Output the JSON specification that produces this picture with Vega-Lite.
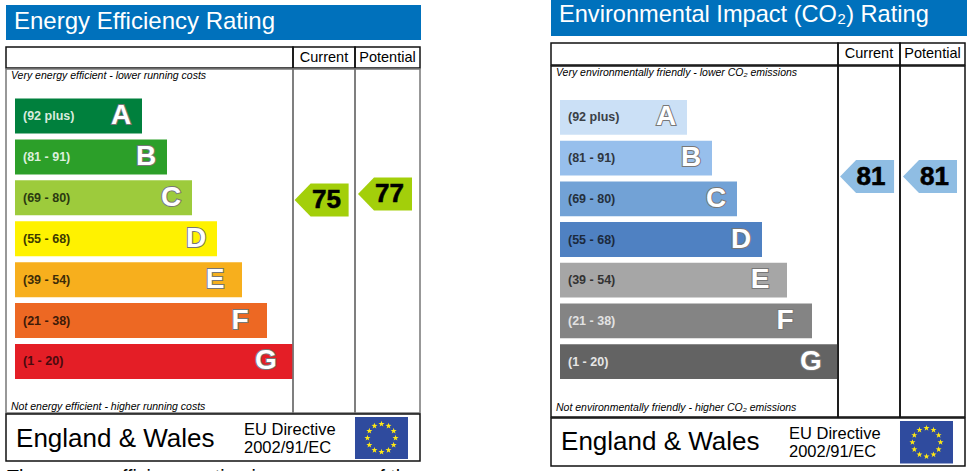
{
"$schema":"https://vega.github.io/schema/vega-lite/v6.json",
"padding":{"left":5,"top":0,"right":0,"bottom":0},
"background":"white",
"config":{"view":{"stroke":null},"concat":{"spacing":0},"font":"Liberation Sans"},
"datasets":{
"energy":[{"band":"A","range":"(92 plus)","len":127,"note":"Very energy efficient - lower running costs"},{"band":"B","range":"(81 - 91)","len":152},{"band":"C","range":"(69 - 80)","len":177},{"band":"D","range":"(55 - 68)","len":202},{"band":"E","range":"(39 - 54)","len":227},{"band":"F","range":"(21 - 38)","len":252},{"band":"G","range":"(1 - 20)","len":278,"note":"Not energy efficient - higher running costs"}],
"co2":[{"band":"A","range":"(92 plus)","len":127,"note":"Very environmentally friendly - lower CO₂ emissions"},{"band":"B","range":"(81 - 91)","len":152},{"band":"C","range":"(69 - 80)","len":177},{"band":"D","range":"(55 - 68)","len":202},{"band":"E","range":"(39 - 54)","len":227},{"band":"F","range":"(21 - 38)","len":252},{"band":"G","range":"(1 - 20)","len":278,"note":"Not environmentally friendly - higher CO₂ emissions"}],
"stars":[{"east":0,"north":0.667},{"east":0.265,"north":0.578},{"east":0.459,"north":0.333},{"east":0.53,"north":0},{"east":0.459,"north":-0.333},{"east":0.265,"north":-0.578},{"east":0,"north":-0.667},{"east":-0.265,"north":-0.578},{"east":-0.459,"north":-0.333},{"east":-0.53,"north":0},{"east":-0.459,"north":0.333},{"east":-0.265,"north":0.578}]
},
"resolve":{"scale":{"color":"independent","fill":"independent"}},
"hconcat":[
{"spacing":0,"resolve":{"scale":{"color":"independent","fill":"independent"}},"vconcat":[
 {"width":10,"height":5,"data":{"values":[]},"mark":"text","encoding":{}},
 {"width":415,"height":35,"view":{"fill":"#0071bc"},"data":{"values":[{"title":"Energy Efficiency Rating"}]},
  "mark":{"type":"text","align":"left","baseline":"alphabetic","fontSize":24,"color":"white"},
  "encoding":{"text":{"field":"title"},"x":{"datum":8,"scale":{"domain":[0,415]},"axis":null},"y":{"datum":24,"scale":{"domain":[0,35],"reverse":true},"axis":null}}},
 {"width":10,"height":6,"data":{"values":[]},"mark":"text","encoding":{}},
 {"spacing":-2,"resolve":{"scale":{"color":"independent","fill":"independent"}},"vconcat":[
 {"spacing":0,"bounds":"flush","hconcat":[
  {"width":287,"height":21,"view":{"stroke":"#111","strokeWidth":1.5},"data":{"values":[]},"mark":"text","encoding":{}},
  {"width":62,"height":21,"view":{"stroke":"#111","strokeWidth":1.5},"data":{"values":[{"label":"Current"}]},"mark":{"type":"text","fontSize":14.5,"color":"#000"},"encoding":{"text":{"field":"label"}}},
  {"width":65,"height":21,"view":{"stroke":"#111","strokeWidth":1.5},"data":{"values":[{"label":"Potential"}]},"mark":{"type":"text","fontSize":14.5,"color":"#000"},"encoding":{"text":{"field":"label"}}}
 ]},
 {"spacing":0,"bounds":"flush","resolve":{"scale":{"color":"independent","fill":"independent"}},"hconcat":[
  {"width":287,"height":344,"view":{"stroke":"#777","strokeWidth":1.5},"data":{"name":"energy"},
   "encoding":{"y":{"field":"band","type":"nominal","axis":null,"scale":{"domain":["A","B","C","D","E","F","G"],"range":[29.5,310],"paddingInner":0.144,"paddingOuter":0}},
     "x":{"field":"len","type":"quantitative","axis":null,"scale":{"domain":[-9,278],"nice":false}}},
   "layer":[
    {"mark":"bar","encoding":{"color":{"field":"band","type":"nominal","legend":null,"scale":{"domain":["A","B","C","D","E","F","G"],"range":["#00803d","#2c9f29","#9dcb3c","#fff200","#f7af1d","#ed6823","#e41e26"]}}}},
    {"mark":{"type":"text","align":"left","fontSize":12.5,"fontWeight":"bold"},"encoding":{"x":{"datum":8},"text":{"field":"range"},"fill":{"field":"band","type":"nominal","legend":null,"scale":{"domain":["A","B","C","D","E","F","G"],"range":["#d8ebdd","#dcefdc","#2b3a10","#3d3a00","#3d2c08","#3d1a08","#4a0a0e"]}}}},
    {"transform":[{"filter":"datum.band<='D'"}],"mark":{"type":"text","align":"center","fontSize":28,"fontWeight":"bold","dx":-21,"fill":"#777","stroke":"#777","strokeWidth":2},"encoding":{"text":{"field":"band"}}},
    {"transform":[{"filter":"datum.band>'D'"}],"mark":{"type":"text","align":"center","fontSize":28,"fontWeight":"bold","dx":-27,"fill":"#777","stroke":"#777","strokeWidth":2},"encoding":{"text":{"field":"band"}}},
    {"transform":[{"filter":"datum.band<='D'"}],"mark":{"type":"text","align":"center","fontSize":28,"fontWeight":"bold","dx":-21,"fill":"white"},"encoding":{"text":{"field":"band"}}},
    {"transform":[{"filter":"datum.band>'D'"}],"mark":{"type":"text","align":"center","fontSize":28,"fontWeight":"bold","dx":-27,"fill":"white"},"encoding":{"text":{"field":"band"}}},
    {"transform":[{"filter":"datum.band=='A'"}],"mark":{"type":"text","align":"left","fontSize":10.5,"fontStyle":"italic","fill":"#000","dy":-40},"encoding":{"text":{"field":"note"},"x":{"datum":-4}}},
    {"transform":[{"filter":"datum.band=='G'"}],"mark":{"type":"text","align":"left","fontSize":10.5,"fontStyle":"italic","fill":"#000","dy":46},"encoding":{"text":{"field":"note"},"x":{"datum":-4}}}
   ]},
  {"width":62,"height":344,"view":{"stroke":"#777","strokeWidth":1.5},"data":{"values":[{"rating":75}]},
   "encoding":{"y":{"field":"rating","type":"quantitative","axis":null,"scale":{"domain":[3.99,118.66],"nice":false,"zero":false}}},
   "layer":[
    {"mark":{"type":"point","shape":"M-1,0L-0.407,-0.611L1,-0.611L1,0.611L-0.407,0.611Z","size":2916,"filled":true,"color":"#a3cf0a","opacity":1,"strokeWidth":0},"encoding":{"x":{"datum":30,"scale":{"domain":[0,62]},"axis":null}}},
    {"mark":{"type":"text","fontSize":26,"fontWeight":"bold","color":"#000","stroke":"#000","strokeWidth":0.6},"encoding":{"x":{"datum":35},"text":{"field":"rating"}}}
   ]},
  {"width":65,"height":344,"view":{"stroke":"#777","strokeWidth":1.5},"data":{"values":[{"rating":77}]},
   "encoding":{"y":{"field":"rating","type":"quantitative","axis":null,"scale":{"domain":[3.99,118.66],"nice":false,"zero":false}}},
   "layer":[
    {"mark":{"type":"point","shape":"M-1,0L-0.407,-0.611L1,-0.611L1,0.611L-0.407,0.611Z","size":2916,"filled":true,"color":"#a3cf0a","opacity":1,"strokeWidth":0},"encoding":{"x":{"datum":30,"scale":{"domain":[0,65]},"axis":null}}},
    {"mark":{"type":"text","fontSize":26,"fontWeight":"bold","color":"#000","stroke":"#000","strokeWidth":0.6},"encoding":{"x":{"datum":34.5},"text":{"field":"rating"}}}
   ]}
 ]},
 {"width":414,"height":47,"view":{"stroke":"#111","strokeWidth":1.5},
  "layer":[
   {"data":{"values":[{"flag":"EU"}]},"mark":{"type":"rect","color":"#2f4b9e"},"encoding":{"x":{"datum":-1,"scale":{"domain":[-14.17,1.453],"nice":false,"zero":false},"axis":null},"x2":{"datum":1},"y":{"datum":-1,"scale":{"domain":[-1.095,1.143],"nice":false,"zero":false},"axis":null},"y2":{"datum":1}}},
   {"data":{"name":"stars"},"mark":{"type":"point","shape":"M0,-1L0.235,-0.324L0.951,-0.309L0.38,0.124L0.588,0.809L0,0.4L-0.588,0.809L-0.38,0.124L-0.951,-0.309L-0.235,-0.324Z","size":40,"filled":true,"color":"#ffe914","opacity":1},"encoding":{"x":{"field":"east","type":"quantitative"},"y":{"field":"north","type":"quantitative"}}},
   {"data":{"values":[{"line":"England & Wales"}]},"mark":{"type":"text","align":"left","baseline":"alphabetic","fontSize":26,"color":"#000"},"encoding":{"text":{"field":"line"},"x":{"datum":-13.79},"y":{"datum":-0.43}}},
   {"data":{"values":[{"line":"EU Directive"}]},"mark":{"type":"text","align":"left","baseline":"alphabetic","fontSize":16.5,"color":"#000"},"encoding":{"text":{"field":"line"},"x":{"datum":-5.19},"y":{"datum":0.143}}},
   {"data":{"values":[{"line":"2002/91/EC"}]},"mark":{"type":"text","align":"left","baseline":"alphabetic","fontSize":16.5,"color":"#000"},"encoding":{"text":{"field":"line"},"x":{"datum":-5.19},"y":{"datum":-0.714}}}
  ]}
 ]},
 {"width":415,"height":30,"data":{"values":[{"line":"The energy efficiency rating is a measure of the"}]},
  "mark":{"type":"text","align":"left","baseline":"alphabetic","fontSize":19.5,"color":"#000"},
  "encoding":{"text":{"field":"line"},"x":{"datum":1,"scale":{"domain":[0,415]},"axis":null},"y":{"datum":21.5,"scale":{"domain":[0,30],"reverse":true},"axis":null}}}
]},
{"width":129,"height":1,"data":{"values":[]},"mark":"text","encoding":{}},
{"spacing":0,"resolve":{"scale":{"color":"independent","fill":"independent"}},"vconcat":[
 {"width":416,"height":36,"view":{"fill":"#0071bc"},"data":{"values":[{"title":"Environmental Impact (CO₂) Rating"}]},
  "mark":{"type":"text","align":"left","baseline":"alphabetic","fontSize":23.6,"color":"white"},
  "encoding":{"text":{"field":"title"},"x":{"datum":8,"scale":{"domain":[0,416]},"axis":null},"y":{"datum":22,"scale":{"domain":[0,36],"reverse":true},"axis":null}}},
 {"width":10,"height":6,"data":{"values":[]},"mark":"text","encoding":{}},
 {"spacing":-2,"resolve":{"scale":{"color":"independent","fill":"independent"}},"vconcat":[
 {"spacing":0,"bounds":"flush","hconcat":[
  {"width":287,"height":22,"view":{"stroke":"#111","strokeWidth":1.5},"data":{"values":[]},"mark":"text","encoding":{}},
  {"width":62,"height":22,"view":{"stroke":"#111","strokeWidth":1.5},"data":{"values":[{"label":"Current"}]},"mark":{"type":"text","fontSize":14.5,"color":"#000"},"encoding":{"text":{"field":"label"}}},
  {"width":65,"height":22,"view":{"stroke":"#111","strokeWidth":1.5},"data":{"values":[{"label":"Potential"}]},"mark":{"type":"text","fontSize":14.5,"color":"#000"},"encoding":{"text":{"field":"label"}}}
 ]},
 {"spacing":0,"bounds":"flush","resolve":{"scale":{"color":"independent","fill":"independent"}},"hconcat":[
  {"width":287,"height":351,"view":{"stroke":"#111","strokeWidth":1.5},"data":{"name":"co2"},
   "encoding":{"y":{"field":"band","type":"nominal","axis":null,"scale":{"domain":["A","B","C","D","E","F","G"],"range":[34,313],"paddingInner":0.144,"paddingOuter":0}},
     "x":{"field":"len","type":"quantitative","axis":null,"scale":{"domain":[-9,278],"nice":false}}},
   "layer":[
    {"mark":"bar","encoding":{"color":{"field":"band","type":"nominal","legend":null,"scale":{"domain":["A","B","C","D","E","F","G"],"range":["#cbe0f6","#97bfec","#72a2d6","#4f81c2","#a6a6a6","#848484","#636363"]}}}},
    {"mark":{"type":"text","align":"left","fontSize":12.5,"fontWeight":"bold"},"encoding":{"x":{"datum":8},"text":{"field":"range"},"fill":{"field":"band","type":"nominal","legend":null,"scale":{"domain":["A","B","C","D","E","F","G"],"range":["#3a3f46","#2f3640","#25303d","#1c2a3d","#333333","#e2e2e2","#e6e6e6"]}}}},
    {"transform":[{"filter":"datum.band<='D'"}],"mark":{"type":"text","align":"center","fontSize":28,"fontWeight":"bold","dx":-21,"fill":"#777","stroke":"#777","strokeWidth":2},"encoding":{"text":{"field":"band"}}},
    {"transform":[{"filter":"datum.band>'D'"}],"mark":{"type":"text","align":"center","fontSize":28,"fontWeight":"bold","dx":-27,"fill":"#777","stroke":"#777","strokeWidth":2},"encoding":{"text":{"field":"band"}}},
    {"transform":[{"filter":"datum.band<='D'"}],"mark":{"type":"text","align":"center","fontSize":28,"fontWeight":"bold","dx":-21,"fill":"white"},"encoding":{"text":{"field":"band"}}},
    {"transform":[{"filter":"datum.band>'D'"}],"mark":{"type":"text","align":"center","fontSize":28,"fontWeight":"bold","dx":-27,"fill":"white"},"encoding":{"text":{"field":"band"}}},
    {"transform":[{"filter":"datum.band=='A'"}],"mark":{"type":"text","align":"left","fontSize":10.5,"fontStyle":"italic","fill":"#000","dy":-44.5},"encoding":{"text":{"field":"note"},"x":{"datum":-4}}},
    {"transform":[{"filter":"datum.band=='G'"}],"mark":{"type":"text","align":"left","fontSize":10.5,"fontStyle":"italic","fill":"#000","dy":46},"encoding":{"text":{"field":"note"},"x":{"datum":-4}}}
   ]},
  {"width":62,"height":351,"view":{"stroke":"#111","strokeWidth":1.5},"data":{"values":[{"rating":81}]},
   "encoding":{"y":{"field":"rating","type":"quantitative","axis":null,"scale":{"domain":[0.84,117.84],"nice":false,"zero":false}}},
   "layer":[
    {"mark":{"type":"point","shape":"M-1,0L-0.407,-0.611L1,-0.611L1,0.611L-0.407,0.611Z","size":2916,"filled":true,"color":"#8fbde3","opacity":1,"strokeWidth":0},"encoding":{"x":{"datum":30.5,"scale":{"domain":[0,62]},"axis":null}}},
    {"mark":{"type":"text","fontSize":26,"fontWeight":"bold","color":"#000","stroke":"#000","strokeWidth":0.6},"encoding":{"x":{"datum":34.5},"text":{"field":"rating"}}}
   ]},
  {"width":65,"height":351,"view":{"stroke":"#111","strokeWidth":1.5},"data":{"values":[{"rating":81}]},
   "encoding":{"y":{"field":"rating","type":"quantitative","axis":null,"scale":{"domain":[0.84,117.84],"nice":false,"zero":false}}},
   "layer":[
    {"mark":{"type":"point","shape":"M-1,0L-0.407,-0.611L1,-0.611L1,0.611L-0.407,0.611Z","size":2916,"filled":true,"color":"#8fbde3","opacity":1,"strokeWidth":0},"encoding":{"x":{"datum":30,"scale":{"domain":[0,65]},"axis":null}}},
    {"mark":{"type":"text","fontSize":26,"fontWeight":"bold","color":"#000","stroke":"#000","strokeWidth":0.6},"encoding":{"x":{"datum":34.5},"text":{"field":"rating"}}}
   ]}
 ]},
 {"width":414,"height":48,"view":{"stroke":"#111","strokeWidth":1.5},
  "layer":[
   {"data":{"values":[{"flag":"EU"}]},"mark":{"type":"rect","color":"#2f4b9e"},"encoding":{"x":{"datum":-1,"scale":{"domain":[-14.17,1.453],"nice":false,"zero":false},"axis":null},"x2":{"datum":1},"y":{"datum":-1,"scale":{"domain":[-1.113,1.14],"nice":false,"zero":false},"axis":null},"y2":{"datum":1}}},
   {"data":{"name":"stars"},"mark":{"type":"point","shape":"M0,-1L0.235,-0.324L0.951,-0.309L0.38,0.124L0.588,0.809L0,0.4L-0.588,0.809L-0.38,0.124L-0.951,-0.309L-0.235,-0.324Z","size":40,"filled":true,"color":"#ffe914","opacity":1},"encoding":{"x":{"field":"east","type":"quantitative"},"y":{"field":"north","type":"quantitative"}}},
   {"data":{"values":[{"line":"England & Wales"}]},"mark":{"type":"text","align":"left","baseline":"alphabetic","fontSize":26,"color":"#000"},"encoding":{"text":{"field":"line"},"x":{"datum":-13.79},"y":{"datum":-0.376}}},
   {"data":{"values":[{"line":"EU Directive"}]},"mark":{"type":"text","align":"left","baseline":"alphabetic","fontSize":16.5,"color":"#000"},"encoding":{"text":{"field":"line"},"x":{"datum":-5.19},"y":{"datum":0.155}}},
   {"data":{"values":[{"line":"2002/91/EC"}]},"mark":{"type":"text","align":"left","baseline":"alphabetic","fontSize":16.5,"color":"#000"},"encoding":{"text":{"field":"line"},"x":{"datum":-5.19},"y":{"datum":-0.69}}}
  ]}
 ]}
]}
]}
